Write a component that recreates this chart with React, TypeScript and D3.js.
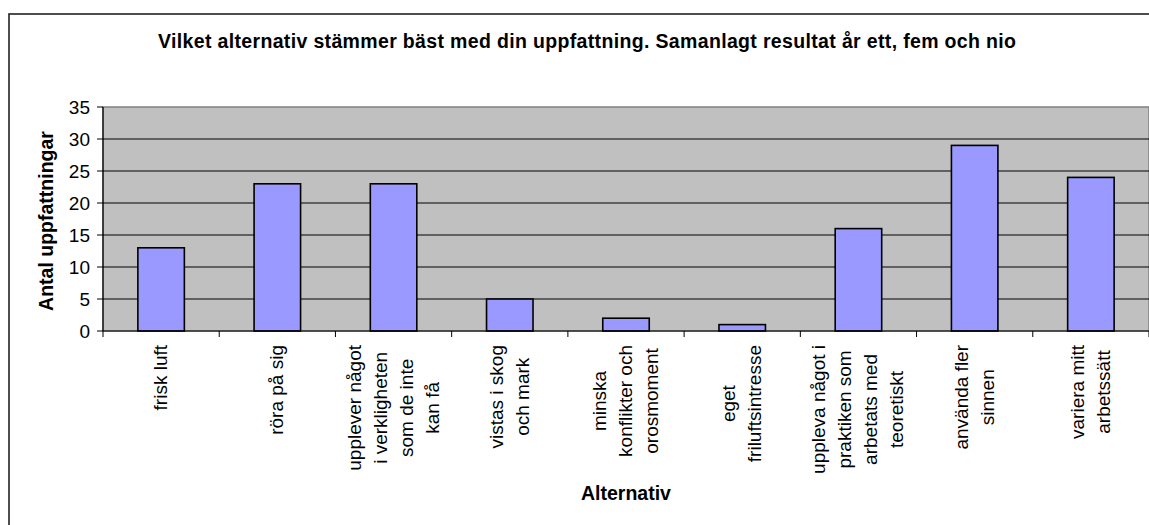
import React from "react";
import * as d3 from "d3";

const categories: string[][] = [
  ["frisk luft"],
  ["röra på sig"],
  ["upplever något", "i verkligheten", "som de inte", "kan få"],
  ["vistas i skog", "och mark"],
  ["minska", "konflikter och", "orosmoment"],
  ["eget", "friluftsintresse"],
  ["uppleva något i", "praktiken som", "arbetats med", "teoretiskt"],
  ["använda fler", "sinnen"],
  ["variera mitt", "arbetssätt"],
];
const values: number[] = [13, 23, 23, 5, 2, 1, 16, 29, 24];
const yTicks: number[] = [0, 5, 10, 15, 20, 25, 30, 35];
const title =
  "Vilket alternativ stämmer bäst med din uppfattning. Samanlagt resultat år ett, fem och nio";
const yTitle = "Antal uppfattningar";
const xTitle = "Alternativ";

const W = 1149;
const H = 525;
const FONT = "'Liberation Sans', Arial, sans-serif";
const LABEL_SIZE = 19;

let ctx: CanvasRenderingContext2D | null = null;
function measure(text: string): number {
  if (!ctx) {
    const c = document.createElement("canvas");
    ctx = c.getContext("2d");
  }
  if (!ctx) return text.length * LABEL_SIZE * 0.5;
  ctx.font = `${LABEL_SIZE}px ${FONT}`;
  return ctx.measureText(text).width;
}

export default function App() {
  const plot = { left: 103, right: 1149, top: 107, bottom: 331 };
  const idx = categories.map((_, i) => String(i));
  const x = d3
    .scaleBand<string>()
    .domain(idx)
    .range([plot.left, plot.right])
    .paddingInner(0.6)
    .paddingOuter(0.3);
  const step = x.step();
  const y = d3.scaleLinear().domain([0, 35]).range([plot.bottom, plot.top]);

  return (
    <svg
      width={W}
      height={H}
      style={{ position: "absolute", left: 0, top: 0, display: "block", background: "#fff" }}
      fontFamily={FONT}
    >
      {/* outer chart border */}
      <rect x={9} y={14} width={W + 20} height={H + 20} fill="#fff" stroke="#222" strokeWidth={1.6} />

      {/* title */}
      <text
        x={158}
        y={48}
        fontSize={19.5}
        fontWeight="bold"
        textLength={858}
        lengthAdjust="spacing"
        fill="#000"
      >
        {title}
      </text>

      {/* plot background */}
      <rect
        x={plot.left}
        y={plot.top}
        width={plot.right - plot.left}
        height={plot.bottom - plot.top}
        fill="#C0C0C0"
        stroke="#808080"
        strokeWidth={1.5}
      />

      {/* gridlines */}
      {yTicks
        .filter((t) => t > 0 && t < 35)
        .map((t) => (
          <line
            key={"g" + t}
            x1={plot.left}
            x2={plot.right}
            y1={y(t)}
            y2={y(t)}
            stroke="#000"
            strokeWidth={1}
          />
        ))}

      {/* bars */}
      {values.map((v, i) => (
        <rect
          key={"b" + i}
          x={x(String(i))!}
          y={y(v)}
          width={x.bandwidth()}
          height={y(0) - y(v)}
          fill="#9999FF"
          stroke="#000"
          strokeWidth={1.6}
        />
      ))}

      {/* y axis */}
      <line x1={plot.left} x2={plot.left} y1={plot.top} y2={plot.bottom} stroke="#000" strokeWidth={1.2} />
      {yTicks.map((t) => (
        <g key={"yt" + t}>
          <line x1={plot.left - 6} x2={plot.left} y1={y(t)} y2={y(t)} stroke="#000" strokeWidth={1} />
          <text
            x={90}
            y={y(t)}
            dy="0.35em"
            textAnchor="end"
            fontSize={19}
            fill="#000"
          >
            {t}
          </text>
        </g>
      ))}

      {/* x axis */}
      <line x1={plot.left} x2={plot.right} y1={plot.bottom} y2={plot.bottom} stroke="#000" strokeWidth={1.2} />
      {d3.range(categories.length + 1).map((i) => {
        const xx = plot.left + i * step;
        return (
          <line key={"xt" + i} x1={xx} x2={xx} y1={plot.bottom} y2={plot.bottom + 6} stroke="#000" strokeWidth={1} />
        );
      })}

      {/* x labels */}
      {categories.map((lines, i) => {
        const cx = x(String(i))! + x.bandwidth() / 2;
        const maxW = Math.max(...lines.map(measure));
        const cy = 345 + maxW / 2;
        const n = lines.length;
        return (
          <g key={"xl" + i}>
            {lines.map((ln, j) => {
              const bx = cx + (j - (n - 1) / 2) * 26 + 6;
              return (
                <text
                  key={j}
                  transform={`translate(${bx},${cy}) rotate(-90)`}
                  textAnchor="middle"
                  fontSize={LABEL_SIZE}
                  fill="#000"
                >
                  {ln}
                </text>
              );
            })}
          </g>
        );
      })}

      {/* axis titles */}
      <text
        transform={`translate(53,${(plot.top + plot.bottom) / 2 + 2}) rotate(-90)`}
        textAnchor="middle"
        fontSize={19.5}
        fontWeight="bold"
        fill="#000"
      >
        {yTitle}
      </text>
      <text
        x={(plot.left + plot.right) / 2}
        y={500}
        textAnchor="middle"
        fontSize={19.5}
        fontWeight="bold"
        fill="#000"
      >
        {xTitle}
      </text>
    </svg>
  );
}
